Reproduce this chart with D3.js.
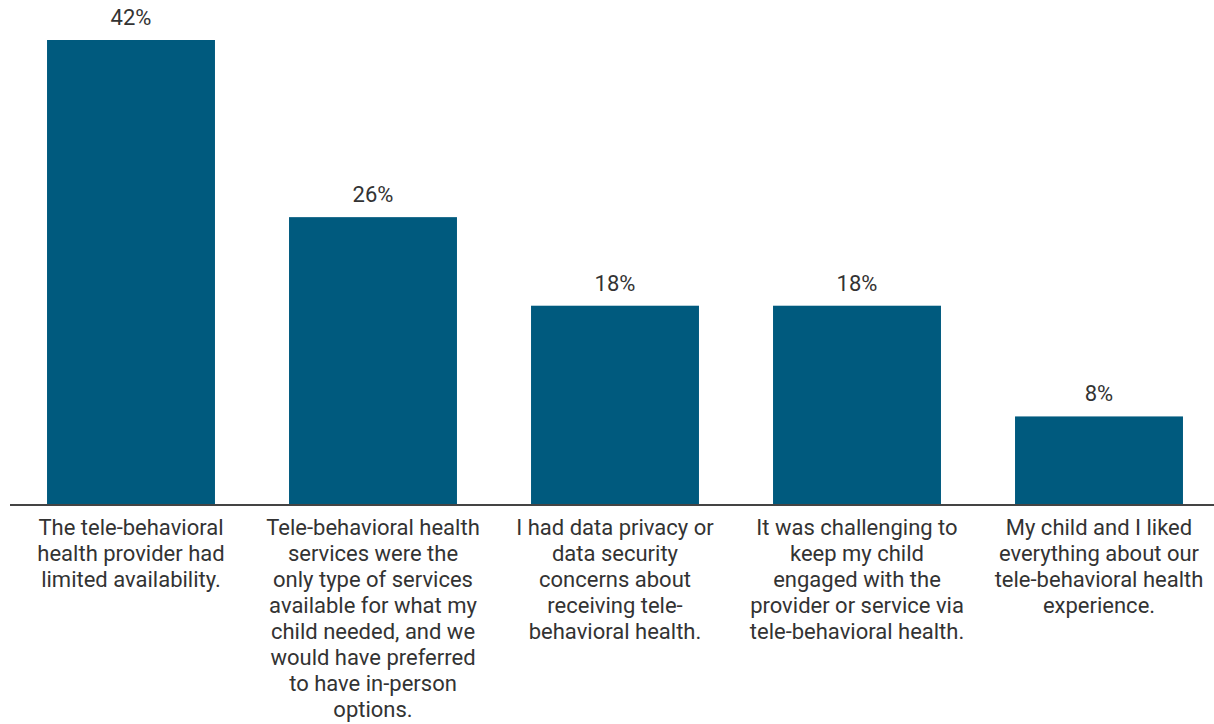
<!DOCTYPE html>
<html>
<head>
<meta charset="utf-8">
<script src="https://cdn.jsdelivr.net/npm/d3@7"></script>
<style>
  html, body { margin: 0; padding: 0; background: #ffffff; }
  svg { display: block; }
  text { font-family: Roboto, "Noto Sans", sans-serif; fill: #333333; }
</style>
</head>
<body>
<svg id="chart" width="1214" height="724"></svg>
<script>
// Survey responses: reasons reported about tele-behavioral health
const categories = [
  "The tele-behavioral health provider had limited availability.",
  "Tele-behavioral health services were the only type of services available for what my child needed, and we would have preferred to have in-person options.",
  "I had data privacy or data security concerns about receiving tele-behavioral health.",
  "It was challenging to keep my child engaged with the provider or service via tele-behavioral health.",
  "My child and I liked everything about our tele-behavioral health experience."
];
const categoryLines = [
  ["The tele-behavioral", "health provider had", "limited availability."],
  ["Tele-behavioral health", "services were the", "only type of services", "available for what my", "child needed, and we", "would have preferred", "to have in-person", "options."],
  ["I had data privacy or", "data security", "concerns about", "receiving tele-", "behavioral health."],
  ["It was challenging to", "keep my child", "engaged with the", "provider or service via", "tele-behavioral health."],
  ["My child and I liked", "everything about our", "tele-behavioral health", "experience."]
];
const values = [42, 26, 18, 18, 8];

const svg = d3.select("#chart");
const baseline = 505;
const topY = 40;

const x = d3.scaleBand()
  .domain(categories)
  .range([10, 1220])
  .paddingInner(0.306)
  .paddingOuter(0.153);

const y = d3.scaleLinear()
  .domain([0, 42])
  .range([baseline, topY]);

// Bars
svg.append("g")
  .selectAll("rect")
  .data(values)
  .join("rect")
  .attr("x", (d, i) => x(categories[i]))
  .attr("y", d => y(d))
  .attr("width", x.bandwidth())
  .attr("height", d => y(0) - y(d))
  .attr("fill", "#005a7e");

// Value labels
svg.append("g")
  .selectAll("text")
  .data(values)
  .join("text")
  .attr("x", (d, i) => x(categories[i]) + x.bandwidth() / 2)
  .attr("y", d => y(d) - 15)
  .attr("text-anchor", "middle")
  .attr("font-size", 22)
  .text(d => d + "%");

// Baseline axis
const axis = d3.axisBottom(x).tickSize(0).tickFormat("");
const axisG = svg.append("g")
  .attr("transform", `translate(0,${baseline})`)
  .call(axis);
axisG.select(".domain")
  .attr("d", `M10,0H1214`)
  .attr("stroke", "#444444")
  .attr("stroke-width", 2);

// Wrapped category labels
const labels = svg.append("g")
  .selectAll("text")
  .data(categories)
  .join("text")
  .attr("x", d => x(d) + x.bandwidth() / 2)
  .attr("y", 535)
  .attr("text-anchor", "middle")
  .attr("font-size", 22);

labels.each(function(d, i) {
  const t = d3.select(this);
  categoryLines[i].forEach((line, j) => {
    t.append("tspan")
      .attr("x", x(d) + x.bandwidth() / 2)
      .attr("y", 535 + j * 26)
      .text(line);
  });
});
</script>
</body>
</html>
